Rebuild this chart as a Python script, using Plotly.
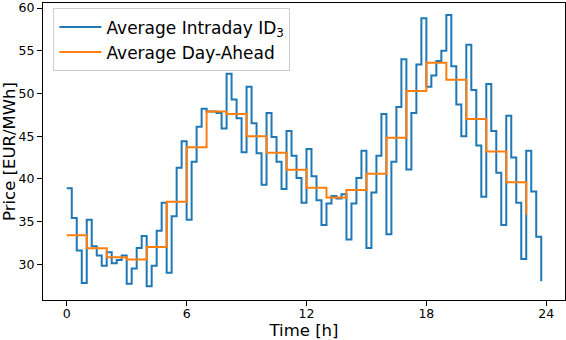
import plotly.graph_objects as go

# 15-minute intraday averages (96 values, starting at 0:00)
intraday_prices = [
    38.9, 35.4, 31.6, 27.8, 35.2, 32.1, 31.0, 29.8,
    31.4, 30.1, 30.5, 31.0, 27.7, 29.5, 31.9, 33.3,
    27.4, 29.8, 33.9, 37.2, 29.0, 35.6, 41.3, 44.4,
    35.2, 42.0, 46.1, 48.2, 47.9, 47.9, 47.7, 45.9,
    52.3, 49.3, 47.1, 43.1, 50.8, 46.5, 43.0, 39.3,
    47.7, 44.9, 42.0, 38.8, 45.6, 42.7, 40.1, 37.2,
    43.5, 40.3, 37.5, 34.6, 37.1, 38.0, 37.7, 38.2,
    32.9, 37.1, 40.1, 43.3, 31.9, 38.4, 42.7, 47.6,
    33.5, 42.0, 48.4, 54.0, 41.1, 47.7, 53.4, 58.8,
    50.8, 52.1, 53.8, 55.0, 59.2, 53.2, 48.7, 45.0,
    55.7, 50.4, 43.9, 37.9, 51.1, 45.6, 40.7, 34.6,
    47.4, 42.5, 37.2, 30.6, 43.3, 38.5, 33.2, 28.0,
]
intraday_times = [i * 0.25 for i in range(len(intraday_prices))]

# hourly day-ahead prices (24 values)
dayahead_prices = [
    33.4, 31.85, 30.8, 30.55, 32.0, 37.3, 43.7, 47.9,
    47.6, 45.0, 43.05, 41.05, 38.95, 37.8, 38.7, 40.6,
    44.8, 50.3, 53.6, 51.6, 47.0, 43.2, 39.6, 35.8,
]
dayahead_times = list(range(len(dayahead_prices)))

x_ticks = [0, 6, 12, 18, 24]
y_ticks = [30, 35, 40, 45, 50, 55, 60]

fig = go.Figure()
fig.add_trace(go.Scatter(
    x=intraday_times, y=intraday_prices, mode="lines",
    line=dict(shape="hv", color="#1f77b4", width=2),
    name="Average Intraday ID<sub>3</sub>",
))
fig.add_trace(go.Scatter(
    x=dayahead_times, y=dayahead_prices, mode="lines",
    line=dict(shape="hv", color="#ff7f0e", width=2),
    name="Average Day-Ahead",
))

axis_common = dict(
    showline=True, linecolor="black", linewidth=1, mirror=True,
    ticks="outside", ticklen=5, tickwidth=1, tickcolor="black",
    showgrid=False, zeroline=False, automargin=False,
    tickfont=dict(family="DejaVu Sans", size=12.5, color="black"),
)

fig.update_layout(
    width=566, height=340,
    margin=dict(l=43, r=1, t=3, b=40),
    paper_bgcolor="white", plot_bgcolor="white",
    font=dict(family="DejaVu Sans", color="black"),
    xaxis=dict(range=[-1.19, 24.94], tickvals=x_ticks, ticklabelstandoff=-3,
               title=dict(text="Time [h]", font=dict(size=16.5), standoff=5),
               **axis_common),
    yaxis=dict(range=[25.8, 60.6], tickvals=y_ticks,
               title=dict(text="Price [EUR/MWh]", font=dict(size=16.5), standoff=4),
               **axis_common),
    legend=dict(
        x=0.02, y=0.982, xanchor="left", yanchor="top",
        bgcolor="rgba(255,255,255,0.8)", bordercolor="#cccccc", borderwidth=1,
        font=dict(family="DejaVu Sans", size=17, color="black"),
        tracegroupgap=0, itemwidth=42,
    ),
    showlegend=True,
)

fig.write_html(
    "out.html",
    config={"displayModeBar": False},
    post_script="document.body.style.margin='0px';document.body.style.padding='0px';",
)
